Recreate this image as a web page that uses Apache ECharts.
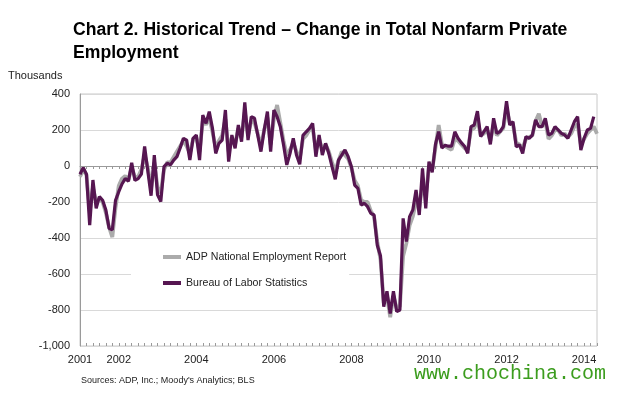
<!DOCTYPE html>
<html>
<head>
<meta charset="utf-8">
<script src="https://cdn.jsdelivr.net/npm/echarts@6/dist/echarts.min.js"></script>
<style>
html,body{margin:0;padding:0;background:#fff;}
#chart{width:617px;height:395px;}
</style>
</head>
<body>
<div id="chart"></div>
<script>
// Monthly categories: Jan 2001 .. May 2014
const startYear = 2001;
const monthCount = 161;
const yearLabels = ["2001", "2002", "2004", "2006", "2008", "2010", "2012", "2014"];
const yTickMin = -1000, yTickMax = 400, yTickStep = 200;

// ADP National Employment Report (thousands), Jan 2001 .. May 2014
const adpValues = [
  -60, -20, -50, -250, -120, -200, -180, -200, -260, -340, -395, -230,
  -110, -70, -55, -75, -10, -60, -60, -20, 60, -10, -120, 20,
  -120, -150, -20, 20, 20, 50, 80, 110, 140, 110, 70, 150,
  160, 80, 250, 230, 270, 190, 100, 140, 170, 260, 80, 160,
  120, 210, 160, 300, 170, 250, 240, 180, 110, 200, 270, 120,
  260, 339, 240, 140, 60, 90, 130, 80, 40, 150, 170, 200,
  210, 90, 150, 90, 120, 80, 20, -30, 30, 80, 60, 40,
  -10, -80, -110, -190, -200, -200, -250, -280, -420, -520, -760, -720,
  -840, -720, -790, -780, -500, -430, -330, -280, -200, -230, -100, -170,
  0, -20, 100, 228, 120, 110, 100, 90, 150, 140, 120, 100,
  90, 200, 210, 260, 170, 180, 200, 140, 230, 170, 190, 210,
  320, 240, 230, 130, 120, 100, 150, 160, 170, 250, 290, 220,
  250, 150, 170, 200, 200, 170, 180, 160, 180, 220, 230, 120,
  150, 180, 200, 220, 179
];

// Bureau of Labor Statistics (thousands), Jan 2001 .. Apr 2014
const blsValues = [
  -46, -9, -46, -328, -78, -235, -170, -190, -245, -346, -355, -190,
  -143, -100, -70, -85, 18, -80, -70, -45, 108, -30, -165, 60,
  -160, -198, -4, 15, 6, 33, 52, 100, 154, 144, 33, 154,
  172, 33, 283, 237, 302, 209, 70, 126, 144, 311, 24, 172,
  98, 228, 135, 354, 144, 274, 265, 172, 80, 200, 302, 80,
  311, 274, 218, 117, 6, 70, 154, 61, 10, 170, 190, 209,
  237, 52, 172, 61, 126, 70, -4, -74, 33, 61, 89, 52,
  -4, -106, -124, -217, -207, -226, -263, -272, -440, -500, -782, -696,
  -819, -696, -809, -800, -291, -420, -281, -244, -133, -272, -13, -235,
  24, -35, 120, 191, 100, 115, 110, 110, 190, 154, 130, 110,
  70, 219, 228, 305, 163, 191, 219, 120, 265, 181, 191, 219,
  360, 228, 246, 107, 117, 70, 163, 154, 172, 256, 219, 219,
  265, 172, 181, 219, 200, 181, 172, 154, 200, 246, 274, 89,
  154, 200, 209, 274
];

const seriesNames = ["ADP National Employment Report", "Bureau of Labor Statistics"];

const categories = [];
for (let i = 0; i < monthCount; i++) {
  const y = startYear + Math.floor(i / 12);
  const m = (i % 12) + 1;
  categories.push(y + "-" + (m < 10 ? "0" + m : m));
}

const FONT = "'Liberation Sans', Arial, sans-serif";
const chart = echarts.init(document.getElementById('chart'), null, {renderer: 'canvas'});

function showYear(index, value) {
  return value.slice(5) === "01" && yearLabels.indexOf(value.slice(0, 4)) >= 0;
}

chart.setOption({
  animation: false,
  backgroundColor: '#fff',
  title: {
    text: 'Chart 2. Historical Trend \u2013 Change in Total Nonfarm Private\nEmployment',
    left: 68,
    top: 14,
    textStyle: {fontFamily: FONT, fontSize: 17.6, fontWeight: 'bold', color: '#000', lineHeight: 23}
  },
  graphic: [
    {type: 'text', left: 8, top: 70, style: {text: 'Thousands', font: "11px 'Liberation Sans', Arial, sans-serif", fill: '#222'}},
    {type: 'text', left: 81, top: 376, style: {text: "Sources: ADP, Inc.; Moody's Analytics; BLS", font: "9px 'Liberation Sans', Arial, sans-serif", fill: '#222'}},
    {type: 'text', left: 414, top: 364, style: {text: 'www.chochina.com', font: "20px 'Liberation Mono', 'DejaVu Sans Mono', monospace", fill: '#3c9d1e'}}
  ],
  legend: {
    orient: 'vertical',
    left: 131,
    top: 242,
    padding: [8, 3, 8, 32],
    backgroundColor: '#fff',
    itemWidth: 18,
    itemHeight: 4,
    itemGap: 12,
    icon: 'rect',
    data: seriesNames,
    textStyle: {fontFamily: FONT, fontSize: 10.6, color: '#222', lineHeight: 14}
  },
  grid: {
    left: 80, right: 20, top: 94, bottom: 49,
    show: true, borderColor: '#c8c8c8', borderWidth: 1, backgroundColor: 'transparent'
  },
  xAxis: [
    {
      type: 'category',
      data: categories,
      boundaryGap: false,
      axisLine: {lineStyle: {color: '#9a9a9a', width: 1}},
      axisTick: {show: true, length: 3, interval: function (i) { return i % 2 === 0; }, lineStyle: {color: '#9a9a9a'}},
      axisLabel: {
        interval: showYear,
        formatter: function (v) { return v.slice(0, 4); },
        fontFamily: FONT, fontSize: 11, color: '#222', margin: 8
      },
      splitLine: {show: false}
    },
    {
      type: 'category',
      data: categories,
      boundaryGap: false,
      position: 'bottom',
      offset: 0,
      axisLine: {show: false},
      axisTick: {show: true, inside: true, length: 3, interval: function (i) { return i % 2 === 0; }, lineStyle: {color: '#9a9a9a'}},
      axisLabel: {show: false},
      splitLine: {show: false}
    }
  ],
  yAxis: {
    type: 'value',
    min: yTickMin, max: yTickMax, interval: yTickStep,
    axisLine: {show: true, lineStyle: {color: '#9a9a9a'}},
    axisTick: {show: false},
    axisLabel: {
      fontFamily: FONT, fontSize: 11, color: '#222', margin: 10,
      formatter: function (v) { return v.toLocaleString('en-US'); }
    },
    splitLine: {lineStyle: {color: '#d9d9d9', width: 1}}
  },
  series: [
    {
      name: seriesNames[0], type: 'line', data: adpValues, showSymbol: false, symbol: 'none',
      lineStyle: {color: '#ababab', width: 3.8}, itemStyle: {color: '#ababab'}, z: 2
    },
    {
      name: seriesNames[1], type: 'line', data: blsValues, showSymbol: false, symbol: 'none',
      lineStyle: {color: '#561651', width: 3.2}, itemStyle: {color: '#561651'}, z: 3
    }
  ]
});
</script>
</body>
</html>
